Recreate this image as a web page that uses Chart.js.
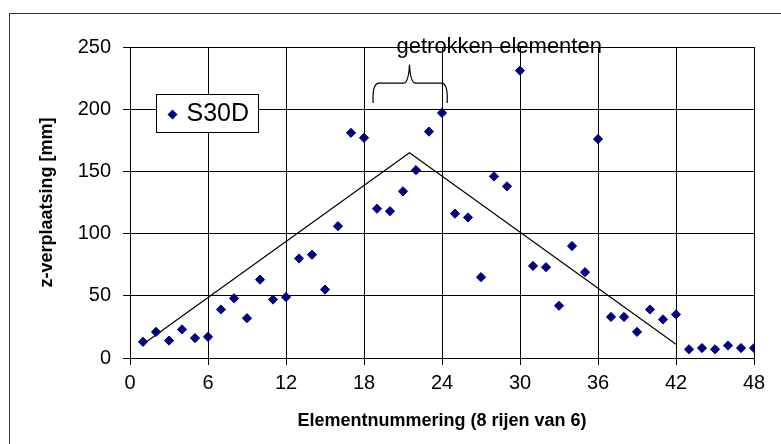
<!DOCTYPE html>
<html>
<head>
<meta charset="utf-8">
<script src="https://cdn.jsdelivr.net/npm/chart.js@4.4.0/dist/chart.umd.min.js"></script>
<style>
  html, body { margin: 0; padding: 0; background: #fff; }
  #wrap { width: 781px; height: 444px; position: relative; }
</style>
</head>
<body>
<div id="wrap"><canvas id="c" width="781" height="444"></canvas></div>
<script>
// ---- data ----
const elements = [1,2,3,4,5,6,7,8,9,10,11,12,13,14,15,16,17,18,19,20,21,22,23,24,25,26,27,28,29,30,31,32,33,34,35,36,37,38,39,40,41,42,43,44,45,46,47,48];
const s30d = [13,21,14,23,16,17,39,48,32,63,47,49,80,83,55,106,181,177,120,118,134,151,182,197,116,113,65,146,138,231,74,73,42,90,69,176,33,33,21,39,31,35,7,8,7,10,8,8];
const trendX = [1, 21.5, 42];
const trendY = [11, 165, 11];
const braceX = [18.7, 21.5, 24.4];   // left end, tip, right end
const braceY = [205, 221, 236];      // ends, shoulders, tip
const xTicks = [0,6,12,18,24,30,36,42,48];
const yTicks = [0,50,100,150,200,250];
const seriesName = 'S30D';
const annotationText = 'getrokken elementen';
const annotationAt = [28.4, 245];
const xTitle = 'Elementnummering (8 rijen van 6)';
const yTitle = 'z-verplaatsing [mm]';

const FONT = "'Liberation Sans', Arial, sans-serif";
const NAVY = '#000080';

const scatterData = elements.map((x, i) => ({ x: x, y: s30d[i] }));
const trendData = trendX.map((x, i) => ({ x: x, y: trendY[i] }));

const extrasPlugin = {
  id: 'extras',
  beforeDraw(chart) {
    const ctx = chart.ctx;
    ctx.save();
    ctx.fillStyle = '#fff';
    ctx.fillRect(0, 0, chart.width, chart.height);
    ctx.strokeStyle = '#333';
    ctx.lineWidth = 1;
    ctx.strokeRect(9.5, 13.5, 900, 600);
    ctx.restore();
  },
  afterDraw(chart) {
    const ctx = chart.ctx;
    const xs = chart.scales.x, ys = chart.scales.y;
    const ca = chart.chartArea;
    ctx.save();
    // brace
    const xl = xs.getPixelForValue(braceX[0]);
    const xm = xs.getPixelForValue(braceX[1]);
    const xr = xs.getPixelForValue(braceX[2]);
    const yEnd = ys.getPixelForValue(braceY[0]);
    const ySh = ys.getPixelForValue(braceY[1]);
    const yTip = ys.getPixelForValue(braceY[2]);
    const r = 6;
    ctx.strokeStyle = '#000';
    ctx.lineWidth = 1.2;
    ctx.beginPath();
    ctx.moveTo(xl, yEnd);
    ctx.quadraticCurveTo(xl - 1, ySh, xl + r, ySh);
    ctx.lineTo(xm - r, ySh);
    ctx.quadraticCurveTo(xm - 1, ySh, xm, yTip);
    ctx.quadraticCurveTo(xm + 1, ySh, xm + r, ySh);
    ctx.lineTo(xr - r, ySh);
    ctx.quadraticCurveTo(xr + 1, ySh, xr, yEnd);
    ctx.stroke();
    // annotation text
    ctx.fillStyle = '#000';
    ctx.font = '22px ' + FONT;
    ctx.textAlign = 'center';
    ctx.textBaseline = 'alphabetic';
    ctx.fillText(annotationText, xs.getPixelForValue(annotationAt[0]), ys.getPixelForValue(annotationAt[1]));
    // legend box
    const bx = ca.left + 26.5, by = ca.top + 47.5, bw = 102, bh = 38;
    ctx.fillStyle = '#fff';
    ctx.fillRect(bx, by, bw, bh);
    ctx.strokeStyle = '#000';
    ctx.lineWidth = 1;
    ctx.strokeRect(bx, by, bw, bh);
    ctx.fillStyle = NAVY;
    const mx = bx + 16, my = by + 20, mr = 5;
    ctx.beginPath();
    ctx.moveTo(mx, my - mr); ctx.lineTo(mx + mr, my); ctx.lineTo(mx, my + mr); ctx.lineTo(mx - mr, my);
    ctx.closePath(); ctx.fill();
    ctx.fillStyle = '#000';
    ctx.font = '25px ' + FONT;
    ctx.textAlign = 'left';
    ctx.textBaseline = 'middle';
    ctx.fillText(seriesName, bx + 30, by + 20);
    ctx.restore();
  }
};

new Chart(document.getElementById('c'), {
  type: 'scatter',
  data: {
    datasets: [
      {
        label: 'trend',
        data: trendData,
        showLine: true,
        borderColor: '#000',
        borderWidth: 1.2,
        pointRadius: 0,
        fill: false,
        order: 2
      },
      {
        label: seriesName,
        data: scatterData,
        pointStyle: 'rectRot',
        pointRadius: 4.6,
        pointBackgroundColor: NAVY,
        pointBorderColor: NAVY,
        pointBorderWidth: 1,
        showLine: false,
        order: 1
      }
    ]
  },
  options: {
    responsive: false,
    animation: false,
    devicePixelRatio: 1,
    layout: { padding: { left: 18, top: 47, right: 27, bottom: 0 } },
    plugins: { legend: { display: false }, tooltip: { enabled: false } },
    scales: {
      x: {
        type: 'linear',
        min: 0, max: 48,
        afterBuildTicks(scale) { scale.ticks = xTicks.map(v => ({ value: v })); },
        afterFit(scale) { scale.height = 444 - 358; },
        grid: { color: '#000', lineWidth: 1, tickLength: 7, drawTicks: true },
        border: { color: '#000', width: 1 },
        ticks: { color: '#000', font: { family: FONT, size: 20 }, padding: 6, maxRotation: 0 },
        title: { display: true, text: xTitle, color: '#000', font: { family: FONT, size: 18, weight: 'bold' }, padding: { top: 0, bottom: 12 } }
      },
      y: {
        type: 'linear',
        min: 0, max: 250,
        afterBuildTicks(scale) { scale.ticks = yTicks.map(v => ({ value: v })); },
        afterFit(scale) { scale.width = 130 - 18; },
        grid: { color: '#000', lineWidth: 1, tickLength: 7, drawTicks: true },
        border: { color: '#000', width: 1 },
        ticks: { color: '#000', font: { family: FONT, size: 20 }, padding: 12 },
        title: { display: true, text: yTitle, color: '#000', font: { family: FONT, size: 18, weight: 'bold' }, padding: { top: 18, bottom: 0 } }
      }
    }
  },
  plugins: [extrasPlugin]
});
</script>
</body>
</html>
